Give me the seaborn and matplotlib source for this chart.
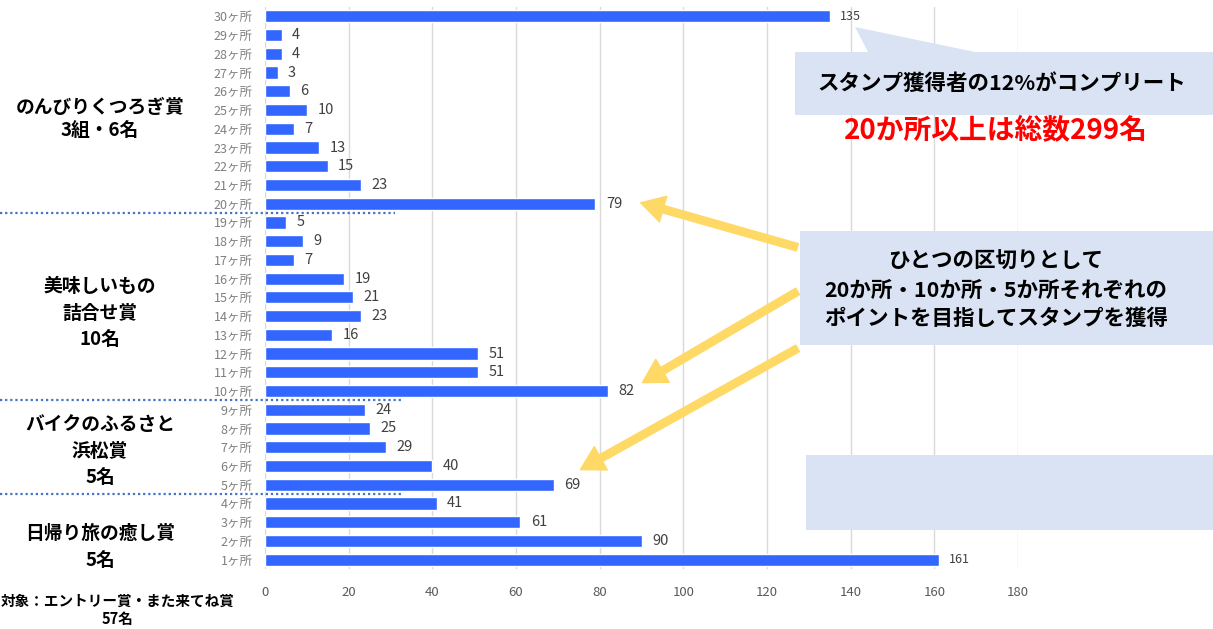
import matplotlib
matplotlib.use("Agg")
import matplotlib.pyplot as plt
import matplotlib.patches as mpatches
from matplotlib.transforms import blended_transform_factory
import seaborn as sns
import pandas as pd

# データ
spots = [f"{n}ヶ所" for n in range(30, 0, -1)]
counts = [135, 4, 4, 3, 6, 10, 7, 13, 15, 23, 79,
          5, 9, 7, 19, 21, 23, 16, 51, 51, 82,
          24, 25, 29, 40, 69,
          41, 61, 90, 161]
x_ticks = [0, 20, 40, 60, 80, 100, 120, 140, 160, 180]

# 賞の区切り (この位置の下に点線)
group_breaks = ["20ヶ所", "10ヶ所", "5ヶ所"]
prize_labels = [
    "のんびりくつろぎ賞\n3組・6名",
    "美味しいもの\n詰合せ賞\n10名",
    "バイクのふるさと\n浜松賞\n5名",
    "日帰り旅の癒し賞\n5名",
]
note_text = "対象：エントリー賞・また来てね賞\n57名"
callout1 = "スタンプ獲得者の12%がコンプリート"
red_text = "20か所以上は総数299名"
callout2 = "ひとつの区切りとして\n20か所・10か所・5か所それぞれの\nポイントを目指してスタンプを獲得"

df = pd.DataFrame({"spot": spots, "count": counts})

W, H = 1213, 629
sns.set_style("white")
plt.rcParams["font.family"] = ["Noto Sans CJK JP", "DejaVu Sans"]

fig = plt.figure(figsize=(W / 100, H / 100), dpi=100)


def fx(x):
    return x / W


def fy(y):
    return 1 - y / H


ax = fig.add_axes([fx(265), fy(569), fx(1018) - fx(265), fy(7) - fy(569)])
sns.barplot(data=df, x="count", y="spot", orient="h", color="#3366FF",
            saturation=1, width=0.65, ax=ax, zorder=3)

ax.set_xlabel("")
ax.set_ylabel("")
ax.grid(axis="x", color="#D9D9D9", linewidth=1, zorder=0)
for s in ax.spines.values():
    s.set_visible(False)
ax.tick_params(axis="x", length=0, pad=12, labelsize=9.5, labelcolor="#595959")
ax.tick_params(axis="y", length=0, pad=9, labelsize=9, labelcolor="#7F7F7F")

for i, v in enumerate(counts):
    ax.text(v + 2.5, i, str(v), va="center", ha="left",
            fontsize=9 if v >= 100 else 10.5, color="#404040")

# 区切りの点線
tr = blended_transform_factory(fig.transFigure, ax.transData)
for name, x_end in zip(group_breaks, [395, 403, 403]):
    yi = spots.index(name) + 0.5
    ax.plot([0, fx(x_end)], [yi, yi], transform=tr, clip_on=False,
            color="#4472C4", linewidth=1.6, linestyle=(0, (1, 1.3)), zorder=4)

ax.set_xlim(0, 180)
ax.set_xticks(x_ticks)
ax.set_ylim(len(spots) - 0.5, -0.5)

# 左側の賞ラベル
label_y = [119, 313, 451, 547]
label_ls = [1.3, 1.5, 1.5, 1.5]
for txt, y, ls in zip(prize_labels, label_y, label_ls):
    fig.text(fx(100), fy(y), txt, ha="center", va="center", fontsize=13.5,
             fontweight="bold", color="black", linespacing=ls)
fig.text(fx(118), fy(610), note_text, ha="center", va="center", fontsize=10.5,
         fontweight="bold", color="black", linespacing=1.2)

box_color = "#DAE3F3"

# 吹き出し1
pts = [(795, 52), (868, 52), (855, 27), (975, 52), (1213, 52), (1213, 115), (795, 115)]
fig.patches.append(mpatches.Polygon([(fx(a), fy(b)) for a, b in pts], closed=True,
                                    transform=fig.transFigure, facecolor=box_color,
                                    edgecolor="none", zorder=5))
fig.text(fx(1002), fy(83), callout1, ha="center", va="center", fontsize=15.5,
         fontweight="bold", color="black", zorder=6)
fig.text(fx(996), fy(130), red_text, ha="center", va="center", fontsize=20,
         fontweight="bold", color="#FF0000", zorder=6)

# 吹き出し2
fig.patches.append(mpatches.Rectangle((fx(800), fy(345)), fx(1213) - fx(800), fy(231) - fy(345),
                                      transform=fig.transFigure, facecolor=box_color,
                                      edgecolor="none", zorder=5))
fig.text(fx(996), fy(290), callout2, ha="center", va="center", fontsize=15.5,
         fontweight="bold", color="black", linespacing=1.45, zorder=6)

# 空の枠
fig.patches.append(mpatches.Rectangle((fx(806), fy(530)), fx(1213) - fx(806), fy(455) - fy(530),
                                      transform=fig.transFigure, facecolor=box_color,
                                      edgecolor="none", zorder=5))

# 黄色の矢印
for (x0, y0), (x1, y1) in [((800, 248), (638, 202)), ((800, 290), (640, 384)),
                           ((800, 347), (578, 471))]:
    fig.patches.append(mpatches.FancyArrowPatch(
        (fx(x0), fy(y0)), (fx(x1), fy(y1)), transform=fig.transFigure,
        arrowstyle="simple,head_width=1.6,head_length=1.4,tail_width=0.45",
        mutation_scale=12, color="#FFD966", zorder=4))

fig.savefig("out.png", dpi=100)
